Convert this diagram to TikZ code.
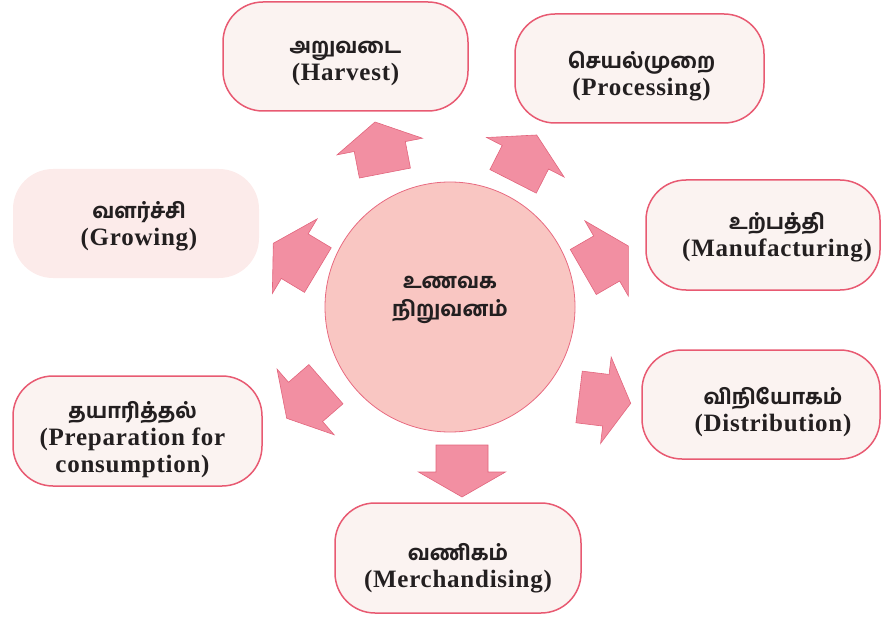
\documentclass[tikz,border=0pt]{standalone}
\usepackage{fontspec}
\setmainfont{Liberation Serif}[LetterSpace=3]
\IfFontExistsTF{Hind Madurai Bold}
  {\newfontfamily\tamil[Script=Tamil]{Hind Madurai Bold}}
  {\IfFontExistsTF{Hind Madurai SemiBold}
    {\newfontfamily\tamil[Script=Tamil]{Hind Madurai SemiBold}}
    {\newfontfamily\tamil[Script=Tamil]{Hind Madurai}}}

\definecolor{boxline}{HTML}{E85A72}
\definecolor{boxfill}{HTML}{FBF3F1}
\definecolor{softfill}{HTML}{FCEBEA}
\definecolor{arrowfill}{HTML}{F28FA2}
\definecolor{arrowline}{HTML}{E2657D}
\definecolor{hubfill}{HTML}{F9C6C2}
\definecolor{hubline}{HTML}{E86A80}
\definecolor{ink}{HTML}{231F20}

\newcommand{\ta}[1]{{\fontsize{21}{27}\selectfont\tamil\mdseries #1}}

\tikzset{
  stage/.style={draw=boxline, line width=1.5pt, fill=boxfill, rounded corners=40pt},
  softstage/.style={stage, draw=none, fill=softfill},
  caption/.style={align=center, text=ink, inner sep=0pt,
    font=\fontsize{25}{27}\selectfont\bfseries},
  hub/.style={circle, draw=hubline, line width=0.8pt, fill=hubfill, minimum size=250pt},
  arrowbody/.style={fill=arrowfill, draw=arrowline, line width=0.6pt, line join=miter},
  blockarrow/.pic={
    \path[arrowbody] (0,0) -- (-25,43.5) -- (-25,26) -- (-52,26) -- (-52,-26)
      -- (-25,-26) -- (-25,-43.5) -- cycle;
  }
}

\begin{document}
\begin{tikzpicture}[x=1pt, y=-1pt]
\useasboundingbox (0,0) rectangle (882,620);

% central hub
\node[hub] (hub) at (450,307) {};
\node[caption, font=\fontsize{21}{28}\selectfont\bfseries] (hubtext) at ([yshift=7pt]hub.center)
  {\ta{உணவக}\\\ta{நிறுவனம்}};

% outer stage boxes
\node[stage, minimum width=245pt, minimum height=109pt] (harvest) at (345.5,56.5) {};
\node[stage, minimum width=249pt, minimum height=109pt] (processing) at (639.5,68.5) {};
\node[softstage, minimum width=246pt, minimum height=109pt] (growing) at (136,223.5) {};
\node[stage, minimum width=234pt, minimum height=110pt] (manufacturing) at (763,235) {};
\node[stage, minimum width=238pt, minimum height=109pt] (distribution) at (761,404.5) {};
\node[stage, minimum width=249pt, minimum height=110pt] (preparation) at (137.5,431) {};
\node[stage, minimum width=246pt, minimum height=110pt] (merchandising) at (458,558) {};

% stage captions
\node[caption] (harvest-t) at ([yshift=-7.5pt]harvest.center) {\ta{அறுவடை}\\(Harvest)};
\node[caption] (processing-t) at ([shift={(2pt,-7.5pt)}]processing.center) {\ta{செயல்முறை}\\(Processing)};
\node[caption] (growing-t) at ([shift={(3pt,-3pt)}]growing.center) {\ta{வளர்ச்சி}\\(Growing)};
\node[caption] (manufacturing-t) at ([shift={(14pt,-2.5pt)}]manufacturing.center) {\ta{உற்பத்தி}\\(Manufacturing)};
\node[caption] (distribution-t) at ([shift={(12pt,-8pt)}]distribution.center) {\ta{விநியோகம்}\\(Distribution)};
\node[caption] (preparation-t) at ([shift={(-5pt,-8.5pt)}]preparation.center) {\ta{தயாரித்தல்}\\(Preparation for\\consumption)};
\node[caption] (merchandising-t) at ([yshift=-10pt]merchandising.center) {\ta{வணிகம்}\\(Merchandising)};

% block arrows from the hub towards each stage
\pic[rotate=101] at (375,122) {blockarrow};
\pic[rotate=63]  at (536.7,135) {blockarrow};
\pic[rotate=30]  at (628.3,246) {blockarrow};
\pic[rotate=-7]  at (630.7,403.3) {blockarrow};
\pic[rotate=-90] at (462,497) {blockarrow};
\pic[rotate=221] at (286.7,418.3) {blockarrow};
\pic[rotate=149] at (273.3,243.3) {blockarrow};
\end{tikzpicture}
\end{document}
